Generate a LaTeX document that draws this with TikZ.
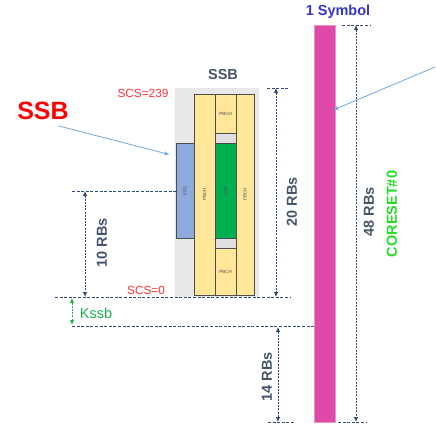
\documentclass[tikz,border=0pt]{standalone}
\usepackage{fontspec}
\setmainfont{Liberation Sans}
\usetikzlibrary{arrows.meta}
\definecolor{dimNavy}{HTML}{2F4A7A}
\definecolor{lblGray}{HTML}{44546A}
\definecolor{symPink}{HTML}{DD4AA8}
\definecolor{pbchYellow}{HTML}{FFE699}
\definecolor{pssBlue}{HTML}{8FAADC}
\definecolor{sssGreen}{HTML}{00B050}
\definecolor{ptrBlue}{HTML}{6FA8DC}
\definecolor{kssbGreen}{HTML}{1EB050}
\definecolor{coresetGreen}{HTML}{22DD22}
\definecolor{symBlue}{HTML}{3535CC}
\tikzset{
  blk/.style n args={2}{draw=black!70, line width=0.8pt, inner sep=0pt,
    minimum width=#1, minimum height=#2, font=\fontsize{4.5}{5}\selectfont, text=black!70},
  dimline/.style={dimNavy, line width=0.9pt, dash pattern=on 3pt off 1.6pt},
  dimarrow/.style={dimNavy, line width=0.8pt, dash pattern=on 2pt off 1.2pt,
    {Latex[length=5pt,width=4.5pt]}-{Latex[length=5pt,width=4.5pt]}},
  rblabel/.style={text=lblGray, font=\bfseries\fontsize{14.5}{15}\selectfont, rotate=90},
  scslabel/.style={text=red!80, font=\fontsize{11.8}{12}\selectfont},
  ptr/.style={ptrBlue, line width=0.8pt, -{Latex[length=5pt,width=4pt]}}
}
\begin{document}
\begin{tikzpicture}[x=1pt, y=-1pt]
  \useasboundingbox (0,0) rectangle (436,432);

  % SSB block
  \node[fill=black!9, inner sep=0pt, minimum width=84pt, minimum height=209pt] (ssbBg) at (217,192.5) {};
  \node[blk={21pt}{201pt}, fill=pbchYellow] (pbchL) at (204.5,194.5) {\rotatebox{90}{PBCH}};
  \node[blk={18pt}{201pt}, fill=pbchYellow] (pbchR) at (245,194.5) {\rotatebox{90}{PBCH}};
  \node[blk={21pt}{39pt}, fill=pbchYellow] (pbchT) at (225.5,113.5) {PBCH};
  \node[blk={21pt}{10pt}, fill=black!12] (gapT) at (225.5,138) {};
  \node[blk={21pt}{95pt}, fill=sssGreen] (sss) at (225.5,190.5) {\rotatebox{90}{SSS}};
  \node[blk={21pt}{10pt}, fill=black!12] (gapB) at (225.5,243) {};
  \node[blk={21pt}{47pt}, fill=pbchYellow] (pbchB) at (225.5,271.5) {PBCH};
  \node[blk={18pt}{95pt}, fill=pssBlue] (pss) at (185,190.5) {\rotatebox{90}{PSS}};

  % one symbol
  \node[fill=symPink, draw=symPink!60, inner sep=0pt, minimum width=21pt, minimum height=397pt] (sym) at (324.5,223.5) {};

  % labels
  \node[text=lblGray, font=\bfseries\fontsize{14.5}{15}\selectfont] (ssbHead) at (223,75) {SSB};
  \node[text=symBlue, font=\bfseries\fontsize{14.5}{15}\selectfont] (symHead) at (338,12) {1 Symbol};
  \node[text=red, font=\bfseries\fontsize{25}{26}\selectfont] (ssbText) at (43,111) {SSB};
  \node[scslabel] (scsTop) at (143,93) {SCS=239};
  \node[scslabel] (scsBot) at (146,290) {SCS=0};

  % dimension lines
  \coordinate (top20a) at (267,88);   \coordinate (top20b) at (290,88);
  \coordinate (bot20a) at (55,297);   \coordinate (bot20b) at (290,297);
  \coordinate (top10) at (72,191);
  \coordinate (kssbBot) at (72,326);
  \coordinate (top48a) at (342,25);   \coordinate (top48b) at (370,25);
  \coordinate (bot48a) at (338,422);  \coordinate (bot48b) at (366,422);
  \coordinate (bot14a) at (268,422);  \coordinate (bot14b) at (295,422);

  \draw[dimline] (top20a) -- (top20b);
  \draw[dimline] (bot20a) -- (bot20b);
  \draw[dimline] (top10) -- (top10 -| pss.west);
  \draw[dimline] (kssbBot) -- (kssbBot -| sym.west);
  \draw[dimline] (top48a) -- (top48b);
  \draw[dimline] (bot48a) -- (bot48b);
  \draw[dimline] (bot14a) -- (bot14b);

  \draw[dimarrow] (276,88) -- (276,297);
  \draw[dimarrow] (85,191) -- (85,297);
  \draw[dimarrow] (356,25) -- (356,422);
  \draw[dimarrow] (278,327) -- (278,422);
  \draw[kssbGreen, line width=0.8pt, dash pattern=on 2pt off 1.2pt,
    {Latex[length=5pt,width=4.5pt]}-{Latex[length=5pt,width=4.5pt]}] (72,298) -- (72,325);

  \node[rblabel] (rb20) at (292,202) {20 RBs};
  \node[rblabel] (rb10) at (102,243) {10 RBs};
  \node[rblabel] (rb48) at (369,212) {48 RBs};
  \node[rblabel] (rb14) at (267,377) {14 RBs};
  \node[text=coresetGreen, font=\bfseries\fontsize{14.5}{15}\selectfont, rotate=90] (coreset) at (392,214) {CORESET\#0};
  \node[text=kssbGreen, font=\fontsize{14.5}{15}\selectfont] (kssb) at (96,313) {Kssb};

  % pointers
  \coordinate (ptrStart) at (435,67);
  \draw[ptr] (59,126) -- ([xshift=-6pt, yshift=-12pt]pss.north west);
  \draw[ptr] (ptrStart) -- ([xshift=-2pt]sym.east |- 0,110);
\end{tikzpicture}
\end{document}
